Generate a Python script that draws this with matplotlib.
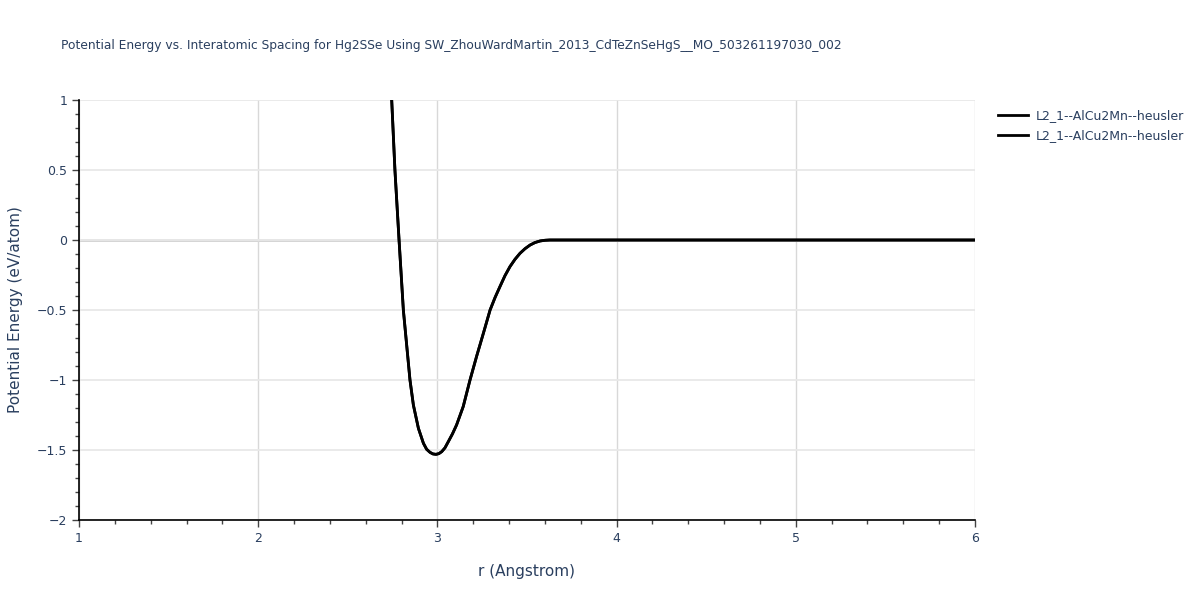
import matplotlib
matplotlib.use("Agg")
import matplotlib.pyplot as plt
from matplotlib.ticker import MultipleLocator
from matplotlib.lines import Line2D

# values
r = [2.745, 2.763, 2.786, 2.810, 2.847, 2.866, 2.894, 2.922, 2.940, 2.959,
     2.975, 2.992, 3.008, 3.024, 3.042, 3.061, 3.084, 3.107, 3.144, 3.182,
     3.219, 3.258, 3.294, 3.322, 3.349, 3.377, 3.405, 3.433, 3.461, 3.489,
     3.517, 3.545, 3.573, 3.600, 3.628, 3.7, 4.0, 4.5, 5.0, 5.5, 6.0]
energy = [1.0, 0.5, 0.0, -0.5, -1.0, -1.179, -1.345, -1.452, -1.495, -1.517,
          -1.528, -1.531, -1.526, -1.512, -1.485, -1.44, -1.385, -1.321, -1.19, -1.0,
          -0.83, -0.66, -0.5, -0.41, -0.333, -0.255, -0.19, -0.138, -0.095, -0.062,
          -0.036, -0.018, -0.007, -0.002, 0.0, 0.0, 0.0, 0.0, 0.0, 0.0, 0.0]
labels = ["L2_1--AlCu2Mn--heusler", "L2_1--AlCu2Mn--heusler"]

title = ("Potential Energy vs. Interatomic Spacing for Hg2SSe Using "
         "SW_ZhouWardMartin_2013_CdTeZnSeHgS__MO_503261197030_002")
txt = "#2a3f5f"

plt.rcParams['font.family'] = ['DejaVu Sans']
fig = plt.figure(figsize=(12, 6), dpi=100)
ax = fig.add_axes([79 / 1200, 80 / 600, 896 / 1200, 420 / 600])

for lab in labels:
    ax.plot(r, energy, color="black", lw=2, label=lab, zorder=3)

ax.set_xlim(1, 6)
ax.set_ylim(-2, 1)
ax.xaxis.set_major_locator(MultipleLocator(1))
ax.xaxis.set_minor_locator(MultipleLocator(0.2))
ax.yaxis.set_major_locator(MultipleLocator(0.5))
ax.yaxis.set_minor_locator(MultipleLocator(0.1))
ax.yaxis.set_major_formatter(matplotlib.ticker.FuncFormatter(
    lambda v, p: ("%g" % v).replace("-", "\u2212")))

ax.grid(True, which="major", axis="x", color="#d8d8d8", lw=1)
ax.grid(True, which="major", axis="y", color="#e8e8e8", lw=1.3)
ax.axhline(0, color="#d0d0d0", lw=2, zorder=1)

for s in ["top", "right"]:
    ax.spines[s].set_visible(False)
for s in ["left", "bottom"]:
    ax.spines[s].set_color("black")
    ax.spines[s].set_linewidth(1.2)

ax.tick_params(which="major", direction="out", length=5, width=1,
               color="#444444", labelcolor=txt, labelsize=9)
ax.tick_params(which="minor", direction="out", length=3, width=1, color="#444444")

ax.set_xlabel("r (Angstrom)", color=txt, fontsize=11, labelpad=14)
ax.set_ylabel("Potential Energy (eV/atom)", color=txt, fontsize=11, labelpad=10)

fig.text(61 / 1200, 1 - 45 / 600, title, color=txt, fontsize=8.8,
         ha="left", va="center")

handles = [Line2D([0], [0], color="black", lw=2) for _ in labels]
leg = fig.legend(handles, labels, loc="upper left",
                 bbox_to_anchor=(993 / 1200, 1 - 104 / 600),
                 frameon=False, fontsize=9, handlelength=2.4,
                 handletextpad=0.6, labelspacing=0.55, borderaxespad=0)
for t in leg.get_texts():
    t.set_color(txt)

fig.savefig("out.png", dpi=100)
